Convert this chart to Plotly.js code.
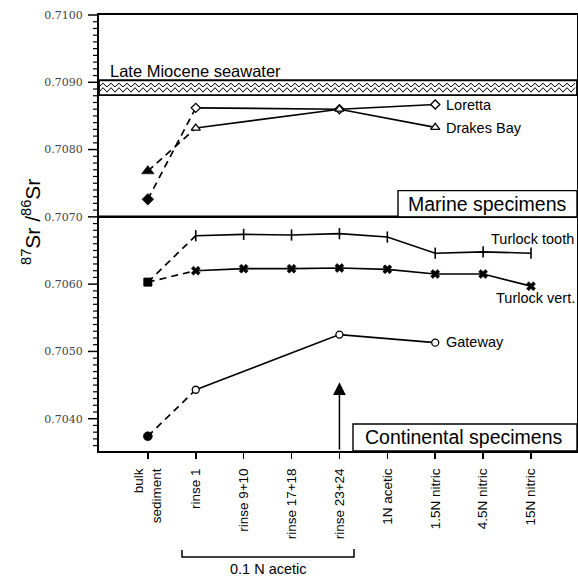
<!DOCTYPE html>
<html>
<head>
<meta charset="utf-8">
<script src="https://cdn.plot.ly/plotly-3.0.1.min.js"></script>
<style>html,body{margin:0;padding:0;background:#fff;}#chart{width:578px;height:578px;}</style>
</head>
<body>
<div id="chart"></div>
<script>
const categories = ['bulk sediment','rinse 1','rinse 9+10','rinse 17+18','rinse 23+24','1N acetic','1.5N nitric','4.5N nitric','15N nitric'];
const tickLabels = ['bulk<br>sediment','rinse 1','rinse 9+10','rinse 17+18','rinse 23+24','1N acetic','1.5N nitric','4.5N nitric','15N nitric'];
const loretta      = [0.70726, 0.70862, null, null, 0.70860, null, 0.70867, null, null];
const drakesBay    = [0.70768, 0.70832, null, null, 0.70860, null, 0.70833, null, null];
const turlockTooth = [0.70603, 0.70672, 0.70674, 0.70673, 0.70675, 0.70670, 0.70646, 0.70648, 0.70646];
const turlockVert  = [0.70603, 0.70620, 0.70623, 0.70623, 0.70624, 0.70622, 0.70615, 0.70615, 0.70597];
const gateway      = [0.70374, 0.70443, null, null, 0.70525, null, 0.70513, null, null];
const seawaterBand = [0.70881, 0.70903];
const seriesNames  = ['Loretta','Drakes Bay','Turlock tooth','Turlock vert.','Gateway'];
const yRange = [0.70352, 0.7100];

const FONT = 'Liberation Sans, Arial, sans-serif';
const series = [
  {name: seriesNames[0], y: loretta, bulkSym: 'diamond', bulkSize: 9, sym: 'diamond', size: 7, fill: 'white', lw: 1.3},
  {name: seriesNames[1], y: drakesBay, bulkSym: 'triangle-up', bulkSize: 11, sym: 'triangle-up', size: 8, fill: 'white', lw: 1.3},
  {name: seriesNames[2], y: turlockTooth, bulkSym: 'square', bulkSize: 8, sym: 'line-ns', size: 8, fill: 'black', lw: 1.6},
  {name: seriesNames[3], y: turlockVert, bulkSym: 'square', bulkSize: 8, sym: 'x', size: 8, fill: 'black', lw: 0.5},
  {name: seriesNames[4], y: gateway, bulkSym: 'circle', bulkSize: 9, sym: 'circle', size: 7, fill: 'white', lw: 1.3}
];

const traces = [];
series.forEach(s => {
  traces.push({x: categories.slice(0,2), y: s.y.slice(0,2), type: 'scatter', mode: 'lines',
    line: {color: 'black', width: 1.7, dash: '7px,5px'}, showlegend: false, hoverinfo: 'skip'});
});
series.forEach(s => {
  traces.push({x: categories.slice(1), y: s.y.slice(1), type: 'scatter', mode: 'lines+markers', name: s.name,
    connectgaps: true, line: {color: 'black', width: 1.6},
    marker: {symbol: s.sym, size: s.size, color: s.fill, line: {color: 'black', width: s.lw}}, showlegend: false});
  traces.push({x: categories.slice(0,1), y: s.y.slice(0,1), type: 'scatter', mode: 'markers',
    marker: {symbol: s.bulkSym, size: s.bulkSize, color: 'black', line: {color: 'black', width: 0.5}}, showlegend: false});
});

const PW = 478;
const px2paper = p => (p - 99) / PW;
const y2paper = v => (v - yRange[0]) / (yRange[1] - yRange[0]);

// wavy hatch inside the seawater band (decoration)
function zigzag(yHi, yLo) {
  const step = 4 / PW;
  let d = '';
  let i = 0;
  for (let x = 0; x <= 1.0001; x += step, i++) {
    const y = (i % 2 === 0) ? yLo : yHi;
    d += (i === 0 ? 'M ' : ' L ') + x.toFixed(5) + ',' + y;
  }
  return d;
}
const bandLo = seawaterBand[0], bandHi = seawaterBand[1];
const span = bandHi - bandLo;

const shapes = [
  {type: 'rect', xref: 'paper', yref: 'y', x0: 0, x1: 1, y0: bandLo, y1: bandHi, line: {color: 'black', width: 1.8}, fillcolor: 'rgba(0,0,0,0)'},
  {type: 'path', xref: 'paper', yref: 'y', path: zigzag(bandHi - span*0.2, bandLo + span*0.55), line: {color: 'black', width: 1}},
  {type: 'path', xref: 'paper', yref: 'y', path: zigzag(bandHi - span*0.5, bandLo + span*0.2), line: {color: 'black', width: 1}},
  {type: 'line', xref: 'paper', yref: 'y', x0: 0, x1: 1, y0: 0.7070, y1: 0.7070, line: {color: 'black', width: 2.5}},
  {type: 'rect', xref: 'paper', yref: 'y', x0: px2paper(398), x1: 1, y0: 0.7070, y1: 0.70739, line: {color: 'black', width: 1.4}, fillcolor: 'white'},
  {type: 'rect', xref: 'paper', yref: 'paper', x0: px2paper(353), x1: 1, y0: 0, y1: (451-424)/436, line: {color: 'black', width: 1.4}, fillcolor: 'white'},
  {type: 'path', xref: 'paper', yref: 'paper',
   path: 'M ' + px2paper(182) + ',' + (-(550-451)/436) + ' L ' + px2paper(182) + ',' + (-(557-451)/436) +
         ' L ' + px2paper(354) + ',' + (-(557-451)/436) + ' L ' + px2paper(354) + ',' + (-(549-451)/436),
   line: {color: 'black', width: 1.5}}
];
// y-axis tick marks (major every 0.001, minor every 0.0001), in paper coordinates so they are not clipped
for (let k = 7036; k <= 7100; k++) {
  const v = k / 10000;
  const major = (k % 10 === 0);
  const yp = y2paper(v);
  shapes.push({type: 'line', xref: 'paper', yref: 'paper', x0: -(major ? 11 : 6) / PW, x1: -1 / PW, y0: yp, y1: yp,
    line: {color: 'black', width: major ? 1.5 : 1.2}});
}

const lab = (text, x, y, xanchor, size) => ({text: text, xref: 'paper', yref: 'paper', x: px2paper(x), y: (451 - y)/436,
  xanchor: xanchor, yanchor: 'middle', showarrow: false, font: {family: FONT, size: size, color: 'black'}});

const annotations = [
  lab('Late Miocene seawater', 108, 71, 'left', 16.5),
  lab(seriesNames[0], 444, 105, 'left', 14.5),
  lab(seriesNames[1], 444, 128, 'left', 14.5),
  lab(seriesNames[2], 576, 239, 'right', 14.5),
  lab(seriesNames[3], 577, 298, 'right', 14.5),
  lab(seriesNames[4], 444, 342, 'left', 14.5),
  lab('Marine specimens', 487, 204, 'center', 19.5),
  lab('Continental specimens', 464, 437, 'center', 19.5),
  lab('0.1 N acetic', 268, 569, 'center', 14.5),
  {text: '<sup>87</sup>Sr /<sup>86</sup>Sr', xref: 'paper', yref: 'paper', x: px2paper(31), y: (451-222)/436,
   xanchor: 'center', yanchor: 'middle', textangle: -90, showarrow: false, font: {family: FONT, size: 21, color: 'black'}},
  {text: '', x: 4, y: 0.70454, xref: 'x', yref: 'y', ax: 4, ay: 0.70352, axref: 'x', ayref: 'y',
   showarrow: true, arrowhead: 2, arrowsize: 1.7, arrowwidth: 1.5, arrowcolor: 'black', standoff: 0}
];

const layout = {
  width: 578, height: 578,
  margin: {l: 99, r: 1, t: 15, b: 127},
  paper_bgcolor: 'white', plot_bgcolor: 'white',
  showlegend: false,
  xaxis: {type: 'category', categoryorder: 'array', categoryarray: categories, range: [-1.02, 8.96],
    tickvals: categories, ticktext: tickLabels, tickangle: -90, ticks: 'outside', ticklen: 6, tickwidth: 1.5,
    tickcolor: 'black', ticklabelstandoff: 4, tickfont: {family: FONT, size: 13.5, color: 'black'},
    showline: true, linewidth: 2, linecolor: 'black', mirror: true, showgrid: false, zeroline: false},
  yaxis: {range: yRange, tick0: 0.7040, dtick: 0.001, tickformat: '.4f',
    ticks: 'outside', ticklen: 12, tickwidth: 1.5, tickcolor: 'rgba(0,0,0,0)',
    tickfont: {family: 'DejaVu Serif, serif', size: 11, color: '#444'},
    showline: true, linewidth: 2, linecolor: 'black', mirror: true, showgrid: false, zeroline: false},
  shapes: shapes,
  annotations: annotations
};

Plotly.newPlot('chart', traces, layout, {staticPlot: true, displayModeBar: false});
</script>
</body>
</html>
